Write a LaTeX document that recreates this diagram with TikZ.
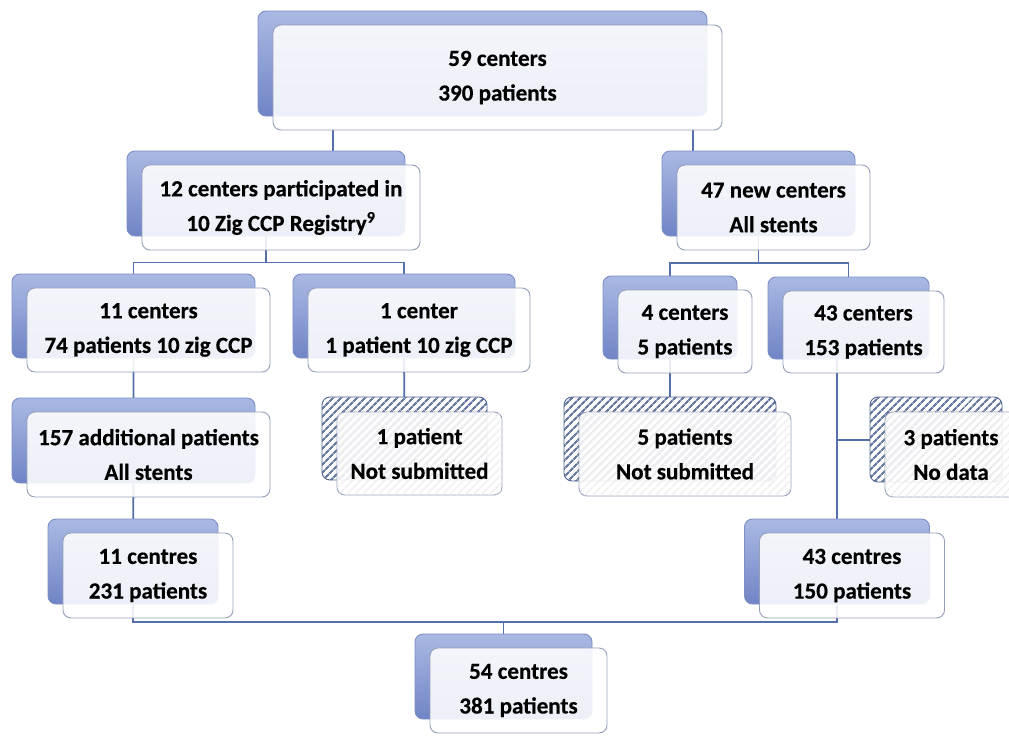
\documentclass[tikz,border=0pt]{standalone}
\usepackage{fontspec}
\setmainfont{Carlito}[BoldFeatures={FakeBold=0.4}]
\usetikzlibrary{shadows, patterns.meta, backgrounds}

\definecolor{linkblue}{RGB}{84,112,170}
\definecolor{backlight}{RGB}{170,185,227}
\definecolor{backdark}{RGB}{112,132,198}
\definecolor{backedge}{RGB}{125,143,196}
\definecolor{frontedge}{RGB}{150,160,186}
\definecolor{hatchblue}{RGB}{82,102,148}

\tikzset{
  card/.style={rectangle, rounded corners=6pt, draw=frontedge, line width=0.7pt,
    fill=white, fill opacity=0.88, text opacity=1, text=black, align=center,
    font=\fontsize{17.3}{26}\selectfont\bfseries, inner sep=0pt},
  % blue box sitting behind and above-left of the white one
  stack/.style={card, general shadow={shadow xshift=-11.25pt, shadow yshift=10.5pt,
    top color=backlight, bottom color=backdark, draw=backedge, fill opacity=1}},
  % hatched variant for the dropped patients
  hatched/.style={card,
    general shadow={shadow xshift=-11.25pt, shadow yshift=11.25pt, fill=white, fill opacity=1},
    general shadow={shadow xshift=-11.25pt, shadow yshift=11.25pt,
      pattern={Lines[angle=45, distance=4pt, line width=1.7pt]}, pattern color=hatchblue,
      draw=hatchblue},
    postaction={pattern={Lines[angle=45, distance=4pt, line width=1.2pt]}, pattern color=black!7}},
  boxsize/.style 2 args={minimum width=#1*0.75pt, minimum height=#2*0.75pt},
  link/.style={draw=linkblue, line width=1.4pt},
}

\begin{document}
\begin{tikzpicture}[x=0.75pt, y=0.75pt]
\useasboundingbox (0,0) rectangle (1009,-736);

% boxes
\node[stack, boxsize={449}{105}] (top) at (497.5,-77.5) {59 centers\\390 patients};
\node[stack, boxsize={278}{85}] (c12) at (281,-207.5) {12 centers participated in\\10 Zig CCP Registry\textsuperscript{9}};
\node[stack, boxsize={193}{85}] (c47) at (773.5,-207.5) {47 new centers\\All stents};
\node[stack, boxsize={243}{84}] (c11) at (148.5,-330) {11 centers\\74 patients 10 zig CCP};
\node[stack, boxsize={222}{84}] (c1) at (419,-330) {1 center\\1 patient 10 zig CCP};
\node[stack, boxsize={134}{83}] (c4) at (685,-331.5) {4 centers\\5 patients};
\node[stack, boxsize={161}{82}] (c43) at (863.5,-332) {43 centers\\153 patients};
\node[stack, boxsize={243}{85}] (add157) at (148.5,-454.5) {157 additional patients\\All stents};
\node[hatched, boxsize={165}{83}] (p1ns) at (419.5,-453.5) {1 patient\\Not submitted};
\node[hatched, boxsize={212}{84}] (p5ns) at (685,-454) {5 patients\\Not submitted};
\node[hatched, boxsize={132}{85}] (p3nd) at (951,-454.5) {3 patients\\No data};
\node[stack, boxsize={170}{85}] (c11b) at (148,-575.5) {11 centres\\231 patients};
\node[stack, boxsize={185}{85}] (c43b) at (852,-575.5) {43 centres\\150 patients};
\node[stack, boxsize={177}{85}] (c54) at (518.5,-690.5) {54 centres\\381 patients};

% middle of each blue back box
\foreach \n in {c12,c47,c11,c1,c4,c43,add157,p1ns,p5ns,p3nd,c11b,c43b,c54}
  \coordinate (\n-b) at ([xshift=-11.25pt]\n.center);

\coordinate (split12) at (0,-262.5);
\coordinate (split47) at (0,-263);
\coordinate (tap3) at (0,-440);
\coordinate (merge) at (0,-622);

% connectors
\begin{scope}[on background layer]
\draw[link] (top.south) ++(-164.5,0) -- ++(0,-30);
\draw[link] (top.south) ++(195.5,0) -- ++(0,-30);
\draw[link] (c12-b) -- (c12-b |- split12);
\draw[link] (c11-b) |- (c1-b |- split12) -- (c1-b);
\draw[link] (c47-b) -- (c47-b |- split47);
\draw[link] (c4-b) |- (c43-b |- split47) -- (c43-b);
\draw[link] (c11-b) -- (add157-b) -- (c11b-b);
\draw[link] (c1-b) -- (p1ns-b);
\draw[link] (c4-b) -- (p5ns-b);
\draw[link] (c43b-b) -- (c43b-b |- c43.center);
\draw[link] (c43b-b |- tap3) -- (p3nd-b |- tap3);
\draw[link] (c11b-b) |- (c43b-b |- merge) -- (c43b-b);
\draw[link] (c54-b) -- (c54-b |- merge);
\end{scope}
\end{tikzpicture}
\end{document}
